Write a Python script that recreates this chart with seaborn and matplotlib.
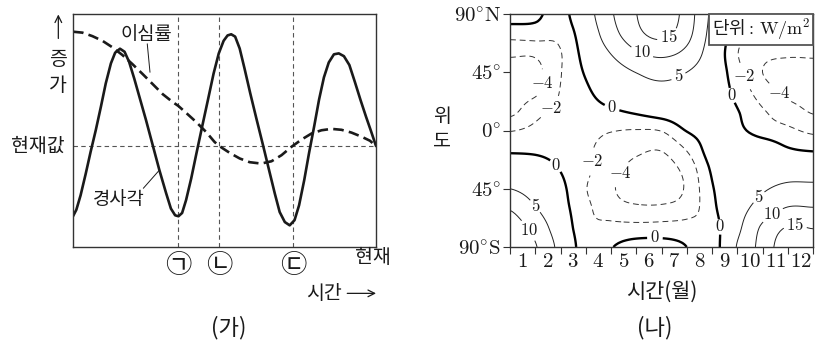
import numpy as np
import pandas as pd
import matplotlib
matplotlib.use("Agg")
import matplotlib.pyplot as plt
from matplotlib.offsetbox import AnchoredText
import seaborn as sns

# ---------------- panel (가): obliquity & eccentricity (relative units) ----------------
obl_t = [0, 1.1, 2.5, 4.2, 5.8, 7.5, 9.2, 10.8, 12.5, 13.9, 15.5, 17.0, 18.5, 20.2, 21.9,
         24.1, 26.3, 28.5, 30.7, 32.3, 33.7, 34.8, 36.0, 37.3, 39.0, 40.6, 42.6, 44.5, 46.4,
         48.1, 49.7, 51.0, 52.2, 53.5, 55.0, 56.6, 58.5, 60.5, 62.7, 64.7, 66.6, 68.2, 69.9,
         71.5, 73.1, 74.6, 76.3, 77.9, 79.6, 81.2, 82.8, 84.4, 86.1, 87.7, 89.4, 91.2, 93.0,
         94.9, 96.7, 98.3, 100]
obl_v = [13.2, 16.0, 22.2, 31.5, 40.8, 50.1, 60.2, 70.2, 78.8, 83.4, 85.1, 83.8, 79.5, 72.3, 64.5,
         54.4, 43.7, 33.0, 23.2, 16.5, 13.6, 13.2, 14.6, 20.1, 29.4, 39.4, 51.6, 63.0, 74.5,
         83.1, 88.5, 90.8, 91.3, 90.3, 85.2, 76.6, 65.9, 55.2, 43.7, 33.0, 22.9, 15.0, 10.7,
         9.3, 11.5, 17.9, 28.7, 40.4, 51.9, 63.3, 72.8, 79.2, 82.7, 83.1, 81.9, 78.1, 70.9,
         63.0, 55.9, 49.9, 43.3]
ecc_t = [0, 3.1, 6.4, 9.7, 13.0, 16.3, 19.6, 23.0, 26.3, 29.6, 32.9, 34.8, 37.3, 40.6, 43.9,
         46.7, 48.3, 51.7, 55.0, 58.3, 62.1, 65.5, 68.8, 72.1, 75.4, 78.7, 82.0, 85.3, 88.6,
         91.9, 95.3, 98.0, 100]
ecc_v = [92.4, 92.0, 90.5, 88.5, 85.7, 82.4, 78.5, 74.2, 69.9, 65.6, 62.2, 60.5, 57.6, 53.7, 49.4,
         45.1, 43.3, 40.4, 38.0, 36.4, 35.8, 36.8, 39.4, 43.0, 46.1, 48.7, 50.1, 50.7, 50.3,
         49.1, 47.3, 45.6, 43.3]
present_value = 43.3
event_times = [34.8, 48.2, 72.7]
event_labels = ["㉠", "㉡", "㉢"]

# ---------------- panel (나): radiation anomaly (W/m^2) ----------------
months = [0, 1, 2, 3, 4, 5, 6, 7, 8, 9, 10, 11, 12]
lats = [90, 75, 60, 45, 30, 15, 0, -15, -30, -45, -60, -75, -90]
flux_90n = [1.0, 0.5, -0.8, 2.9, 9.4, 14.9, 19.0, 12.7, 4.0, -0.8, -1.2, -1.2, -1.0]
flux_75n = [-1.2, -1.0, -1.4, 1.8, 8.0, 13.6, 16.5, 11.7, 3.4, -1.2, -1.4, -1.4, -1.3]
flux_60n = [-3.6, -3.6, -2.1, 1.0, 5.2, 9.4, 11.2, 8.8, 2.6, -1.9, -3.3, -3.6, -3.6]
flux_45n = [-4.9, -4.6, -2.1, 0.25, 2.7, 5.1, 6.6, 5.0, 2.0, -1.3, -4.0, -4.8, -4.6]
flux_30n = [-4.9, -4.4, -1.9, -0.4, 1.4, 2.8, 3.4, 3.0, 1.6, -0.6, -3.0, -4.5, -4.6]
flux_15n = [-4.6, -2.6, -1.6, -0.9, -0.3, 0.4, 1.2, 1.6, 1.2, 0.1, -1.8, -3.1, -4.2]
flux_eq = [-2.1, -1.6, -1.4, -1.5, -1.9, -2.1, -1.9, 0.1, 0.8, 0.5, -1.0, -1.6, -2.4]
flux_15s = [-0.4, -0.5, -1.0, -1.7, -2.8, -3.6, -3.9, -1.9, 1.0, 2.0, 1.8, 0.3, -0.2]
flux_30s = [2.3, 1.7, -0.1, -1.6, -3.3, -4.6, -4.9, -3.3, 0.3, 2.3, 3.2, 3.3, 2.8]
flux_45s = [5.0, 3.0, 0.6, -1.9, -3.7, -5.2, -5.3, -3.7, -0.2, 2.2, 4.5, 6.0, 6.2]
flux_60s = [9.6, 5.3, 1.1, -1.5, -3.1, -3.6, -3.6, -3.0, -0.6, 3.1, 7.0, 10.3, 10.2]
flux_75s = [12.5, 8.3, 2.2, -1.5, -1.4, -1.4, -1.3, -1.2, -1.2, 3.9, 10.8, 15.3, 14.8]
flux_90s = [14.0, 10.4, 3.5, -1.3, -0.1, 0.8, 0.8, 0.0, -1.5, 5.3, 11.8, 18.0, 17.0]
month_labels = ["1", "2", "3", "4", "5", "6", "7", "8", "9", "10", "11", "12"]
lat_ticks = [90, 45, 0, -45, -90]
lat_ticklabels = [r"$90^{\circ}\mathrm{N}$", r"$45^{\circ}$", r"$0^{\circ}$",
                  r"$45^{\circ}$", r"$90^{\circ}\mathrm{S}$"]
neg_levels = [-4, -2]
zero_levels = [0]
pos_levels = [5, 10, 15]

# ---------------- style ----------------
sns.set_theme(style="ticks")
plt.rcParams["font.family"] = ["Noto Sans CJK KR", "DejaVu Sans"]
plt.rcParams["mathtext.fontset"] = "cm"
plt.rcParams["axes.edgecolor"] = "#333333"
plt.rcParams["axes.linewidth"] = 1.0
KR = ["Noto Sans CJK KR", "DejaVu Sans"]
INK = "#1a1a1a"

fig = plt.figure(figsize=(8.27, 3.51), dpi=100)
ax1 = fig.add_axes([0.0883, 0.2963, 0.3664, 0.6638])
ax2 = fig.add_axes([0.6167, 0.2963, 0.3664, 0.6638])

# ---------------- panel (가) ----------------
df_obl = pd.DataFrame({"t": obl_t, "v": obl_v})
df_ecc = pd.DataFrame({"t": ecc_t, "v": ecc_v})
sns.lineplot(data=df_obl, x="t", y="v", ax=ax1, color=INK, linewidth=1.9,
             estimator=None, sort=True)
sns.lineplot(data=df_ecc, x="t", y="v", ax=ax1, color=INK, linewidth=1.9,
             estimator=None, sort=True, linestyle=(0, (4, 2)))
ax1.axhline(present_value, color="#555555", lw=0.8, ls=(0, (4, 3)), zorder=0)
for t in event_times:
    ax1.axvline(t, color="#555555", lw=0.8, ls=(0, (4, 3)), zorder=0)
ax1.set_xlim(0, 100)
ax1.set_ylim(0, 100)
ax1.set_xticks([])
ax1.set_yticks([])
ax1.set_xlabel("")
ax1.set_ylabel("")
for s in ax1.spines.values():
    s.set_visible(True)
    s.set_color("#333333")

for t, lab in zip(event_times, event_labels):
    ax1.text(t, -7.9, lab, ha="center", va="center", fontsize=19, family=KR,
             color=INK, clip_on=False)
ax1.text(99.1, -4.3, "현재", ha="center", va="center", fontsize=14, family=KR,
         color=INK, clip_on=False)
ax1.text(82.8, -19.9, "시간", ha="center", va="center", fontsize=14, family=KR,
         color=INK, clip_on=False)
ax1.annotate("", xy=(100, -19.9), xytext=(90.5, -19.9), xycoords="data",
             arrowprops=dict(arrowstyle="->", color=INK, lw=0.9,
                             shrinkA=0, shrinkB=0), annotation_clip=False)
ax1.text(-11.6, present_value, "현재값", ha="center", va="center", fontsize=14,
         family=KR, color=INK, clip_on=False)
ax1.annotate("", xy=(-4.85, 99.8), xytext=(-4.85, 89.5), xycoords="data",
             arrowprops=dict(arrowstyle="->", color=INK, lw=0.9,
                             shrinkA=0, shrinkB=0), annotation_clip=False)
ax1.text(-4.85, 80.3, "증", ha="center", va="center", fontsize=14, family=KR,
         color=INK, clip_on=False)
ax1.text(-4.85, 69.5, "가", ha="center", va="center", fontsize=14, family=KR,
         color=INK, clip_on=False)
ax1.text(24.3, 91.0, "이심률", ha="center", va="center", fontsize=13.5, family=KR,
         color=INK)
ax1.plot([24.5, 25.4], [87.2, 75.0], color=INK, lw=0.7)
ax1.text(15.0, 20.2, "경사각", ha="center", va="center", fontsize=13.5, family=KR,
         color=INK)
ax1.plot([23.2, 28.5], [25.2, 33.0], color=INK, lw=0.7)

# ---------------- panel (나) ----------------
def catmull_rom(z, axis, factor):
    z = np.moveaxis(np.asarray(z, float), axis, 0)
    n = z.shape[0]
    t = np.linspace(0, n - 1, (n - 1) * factor + 1)
    i = np.clip(np.floor(t).astype(int), 0, n - 2)
    u = (t - i).reshape((-1,) + (1,) * (z.ndim - 1))
    p0 = z[np.clip(i - 1, 0, n - 1)]
    p1 = z[i]
    p2 = z[i + 1]
    p3 = z[np.clip(i + 2, 0, n - 1)]
    out = 0.5 * (2 * p1 + (-p0 + p2) * u + (2 * p0 - 5 * p1 + 4 * p2 - p3) * u ** 2
                 + (-p0 + 3 * p1 - 3 * p2 + p3) * u ** 3)
    return np.moveaxis(out, 0, axis), t

rows = [flux_90n, flux_75n, flux_60n, flux_45n, flux_30n, flux_15n, flux_eq,
        flux_15s, flux_30s, flux_45s, flux_60s, flux_75s, flux_90s]
Z = np.array(rows, float)[::-1]          # ascending latitude
lat_arr = np.array(lats, float)[::-1]
mon_arr = np.array(months, float)
f = 10
Zf, tl = catmull_rom(Z, 0, f)
Zf, tm = catmull_rom(Zf, 1, f)
lat_f = np.interp(tl, np.arange(len(lat_arr)), lat_arr)
mon_f = np.interp(tm, np.arange(len(mon_arr)), mon_arr)
M, L = np.meshgrid(mon_f, lat_f)

cs_neg = ax2.contour(M, L, Zf, levels=neg_levels, colors="#333333", linewidths=0.7)
cs_neg.set_linestyle((0, (6, 4)))
cs_zero = ax2.contour(M, L, Zf, levels=zero_levels, colors="black", linewidths=1.7)
cs_pos = ax2.contour(M, L, Zf, levels=pos_levels, colors="#222222", linewidths=0.7)

fmt = lambda v: r"$%d$" % v
lab_neg = ax2.clabel(cs_neg, fmt=fmt, fontsize=12, inline=True, inline_spacing=3,
                     colors=INK,
                     manual=[(0.99, 37), (1.78, 14.6), (3.23, -24), (4.29, -32.6),
                             (9.44, 42.9), (10.5, 24.9)])
lab_zero = ax2.clabel(cs_zero, fmt=fmt, fontsize=12, inline=True, inline_spacing=3,
                      colors=INK,
                      manual=[(4.03, 17.1), (1.85, -26.6), (5.74, -82), (8.38, -74.3),
                              (8.84, 27.4)])
lab_pos = ax2.clabel(cs_pos, fmt=fmt, fontsize=12, inline=True, inline_spacing=3,
                     colors=INK,
                     manual=[(6.27, 72.5), (5.21, 59.6), (6.73, 39.3), (1.06, -57.5),
                             (0.86, -75.6), (9.83, -51.1), (10.36, -64),
                             (11.29, -74.3)])
for txt in list(lab_neg) + list(lab_zero) + list(lab_pos):
    txt.set_rotation(0)

ax2.set_xlim(0, 12)
ax2.set_ylim(-90, 90)
ax2.set_xticks(range(13))
ax2.set_xticklabels([])
ax2.set_xticks(np.arange(0.5, 12, 1), minor=True)
ax2.set_xticklabels([r"$%s$" % m for m in month_labels], minor=True)
ax2.tick_params(axis="x", which="major", length=5, width=0.8, direction="out",
                color="#333333", bottom=True)
ax2.tick_params(axis="x", which="minor", length=0, labelsize=15, pad=2,
                labelcolor=INK)
ax2.set_yticks(lat_ticks)
ax2.set_yticklabels(lat_ticklabels)
ax2.tick_params(axis="y", length=5, width=0.8, direction="out", labelsize=15,
                pad=1.5, color="#333333", labelcolor=INK, left=True)
for s in ax2.spines.values():
    s.set_visible(True)
    s.set_color("#333333")

box = AnchoredText("단위$:\\,\\mathrm{W/m^2}$", loc="upper right", frameon=True,
                   pad=0.15, borderpad=0.0,
                   prop=dict(size=13, family=KR, color=INK))
box.patch.set_edgecolor("#555555")
box.patch.set_linewidth(1.3)
box.patch.set_boxstyle("square,pad=0")
ax2.add_artist(box)

fig.text(0.534, 0.6695, "위", ha="center", va="center", fontsize=14,
         family=KR, color=INK)
fig.text(0.534, 0.598, "도", ha="center", va="center", fontsize=14,
         family=KR, color=INK)
fig.text(0.80, 0.169, "시간(월)", ha="center", va="center", fontsize=15,
         family=KR, color=INK)
fig.text(0.276, 0.0655, "(가)", ha="center", va="center", fontsize=16,
         family=KR, color=INK)
fig.text(0.792, 0.0655, "(나)", ha="center", va="center", fontsize=16,
         family=KR, color=INK)

fig.savefig("out.png", dpi=100)
